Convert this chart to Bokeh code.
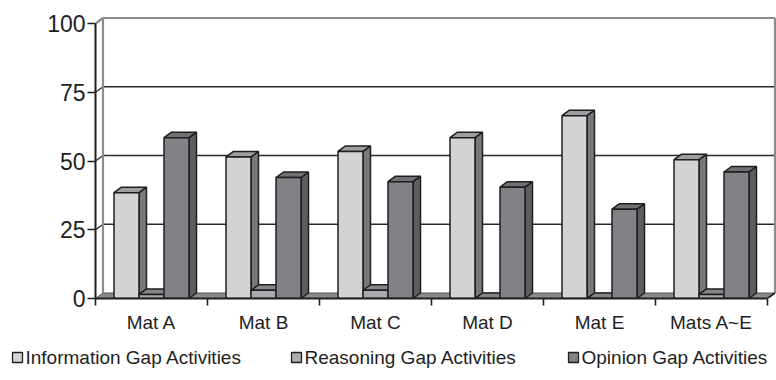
from bokeh.plotting import figure
from bokeh.layouts import column
from bokeh.models import Range1d, FixedTicker
from bokeh.core.properties import value
from bokeh.embed import file_html
from bokeh.resources import INLINE

# ---- data ----
categories = ["Mat A", "Mat B", "Mat C", "Mat D", "Mat E", "Mats A~E"]
series_names = ["Information Gap Activities", "Reasoning Gap Activities", "Opinion Gap Activities"]
info = [38.5, 51.5, 53.5, 58.5, 66.5, 50.5]
reasoning = [1.5, 3.0, 3.0, 0.0, 0.0, 1.5]
opinion = [58.5, 44.0, 42.5, 40.5, 32.5, 46.0]
y_ticks = [0, 25, 50, 75, 100]

# ---- geometry (pixels -> data units) ----
W = 776
H_MAIN, H_LEG = 340, 40
B_LEFT, B_RIGHT, B_TOP, B_BOTTOM = 95, 0, 16, 42
FRAME_W = W - B_LEFT - B_RIGHT
FRAME_H = H_MAIN - B_TOP - B_BOTTOM
PX_X = 112.0      # pixels per category
PX_Y = 2.75       # pixels per value unit
X_END = FRAME_W / PX_X
Y_END = FRAME_H / PX_Y
DX = 7.5 / PX_X   # 3-D depth offset
DY = 5.5 / PX_Y
BW = 25.0 / PX_X  # bar width
N = len(categories)
YMAX = y_ticks[-1]

INK = "#1e1e1e"
FONT = "Liberation Sans"

p = figure(width=W, height=H_MAIN, x_range=Range1d(0, X_END), y_range=Range1d(0, Y_END),
           output_backend="svg", toolbar_location=None,
           min_border_left=B_LEFT, min_border_right=B_RIGHT,
           min_border_top=B_TOP, min_border_bottom=B_BOTTOM)
p.frame_align = False
p.outline_line_color = None
p.xgrid.grid_line_color = None
p.ygrid.grid_line_color = None
p.background_fill_color = "white"
p.border_fill_color = "white"

# floor
p.patch([0, N, N + DX, DX], [0, 0, DY, DY], fill_color="#8a8a8a", line_color="#555555", line_width=1)

# back wall gridlines and left wall diagonals
inner = [t for t in y_ticks if 0 < t < YMAX]
p.segment(x0=[DX] * len(inner), y0=[t + DY for t in inner], x1=[N + DX] * len(inner),
          y1=[t + DY for t in inner], line_color="#2a2a2a", line_width=1.6)
p.segment(x0=[0] * len(inner), y0=inner, x1=[DX] * len(inner), y1=[t + DY for t in inner],
          line_color="#2a2a2a", line_width=1.4)
# wall borders
p.segment(x0=[DX, DX, N + DX, 0], y0=[DY, YMAX + DY, DY, YMAX],
          x1=[DX, N + DX, N + DX, DX], y1=[YMAX + DY, YMAX + DY, YMAX + DY, YMAX + DY],
          line_color="#8c8c8c", line_width=2.2)
# right end of floor edge
p.segment(x0=[N], y0=[0], x1=[N + DX], y1=[DY], line_color=INK, line_width=1.6)

# ---- 3-D bars ----
styles = [
    dict(front="#d3d4d6", side="#77787b", top="#9d9ea1"),
    dict(front="#a9abae", side="#6f7073", top="#85868a"),
    dict(front="#818285", side="#5c5d60", top="#6f7073"),
]
for k, vals in enumerate([info, reasoning, opinion]):
    st = styles[k]
    left = [c + 0.5 + (k - 1) * BW - BW / 2 for c in range(N)]
    right = [l + BW for l in left]
    p.patches(xs=[[r, r + DX, r + DX, r] for r in right],
              ys=[[0, DY, v + DY, v] for v in vals],
              fill_color=st["side"], line_color=INK, line_width=1.5)
    p.patches(xs=[[l, r, r + DX, l + DX] for l, r in zip(left, right)],
              ys=[[v, v, v + DY, v + DY] for v in vals],
              fill_color=st["top"], line_color=INK, line_width=1.5)
    p.quad(left=left, right=right, bottom=[0] * N, top=vals,
           fill_color=st["front"], line_color=INK, line_width=1.5)

# ---- axes ----
ya = p.yaxis[0]
ya.ticker = FixedTicker(ticks=y_ticks)
ya.bounds = (0, YMAX)
ya.axis_line_color = INK
ya.axis_line_width = 2
ya.major_tick_in = 0
ya.major_tick_out = 8
ya.major_tick_line_color = INK
ya.major_tick_line_width = 1.6
ya.minor_tick_line_color = None
ya.major_label_standoff = 2
ya.major_label_text_font = FONT
ya.major_label_text_font_size = "23px"
ya.major_label_text_color = INK

xa = p.xaxis[0]
xa.ticker = FixedTicker(ticks=[c + 0.5 for c in range(N)], minor_ticks=list(range(N + 1)))
xa.major_label_overrides = {c + 0.5: name for c, name in enumerate(categories)}
xa.bounds = (0, N)
xa.axis_line_color = INK
xa.axis_line_width = 2
xa.major_tick_in = 0
xa.major_tick_out = 0
xa.minor_tick_in = 0
xa.minor_tick_out = 7
xa.minor_tick_line_color = INK
xa.minor_tick_line_width = 1.6
xa.major_label_standoff = 6
xa.major_label_text_font = FONT
xa.major_label_text_font_size = "19px"
xa.major_label_text_color = INK

# ---- legend strip (pixel coordinates, y downward) ----
lg = figure(width=W, height=H_LEG, x_range=Range1d(0, W), y_range=Range1d(H_LEG, 0),
            output_backend="svg", toolbar_location=None, min_border=0,
            x_axis_type=None, y_axis_type=None)
lg.frame_align = False
lg.outline_line_color = None
lg.xgrid.grid_line_color = None
lg.ygrid.grid_line_color = None
lg.border_fill_color = "white"
legend_x = [12, 291, 568]
sq = 10
cy = 17
lg.quad(left=legend_x, right=[x + sq for x in legend_x],
        top=[cy - sq / 2] * 3, bottom=[cy + sq / 2] * 3,
        fill_color=[s["front"] for s in styles], line_color=INK, line_width=1.3)
lg.text(x=[x + sq + 3 for x in legend_x], y=[cy] * 3, text=series_names,
        text_baseline="middle", text_align="left", text_font=value(FONT),
        text_font_size="19px", text_color=INK)

layout = column(p, lg, spacing=0)
open("out.html", "w").write(file_html(layout, INLINE))
